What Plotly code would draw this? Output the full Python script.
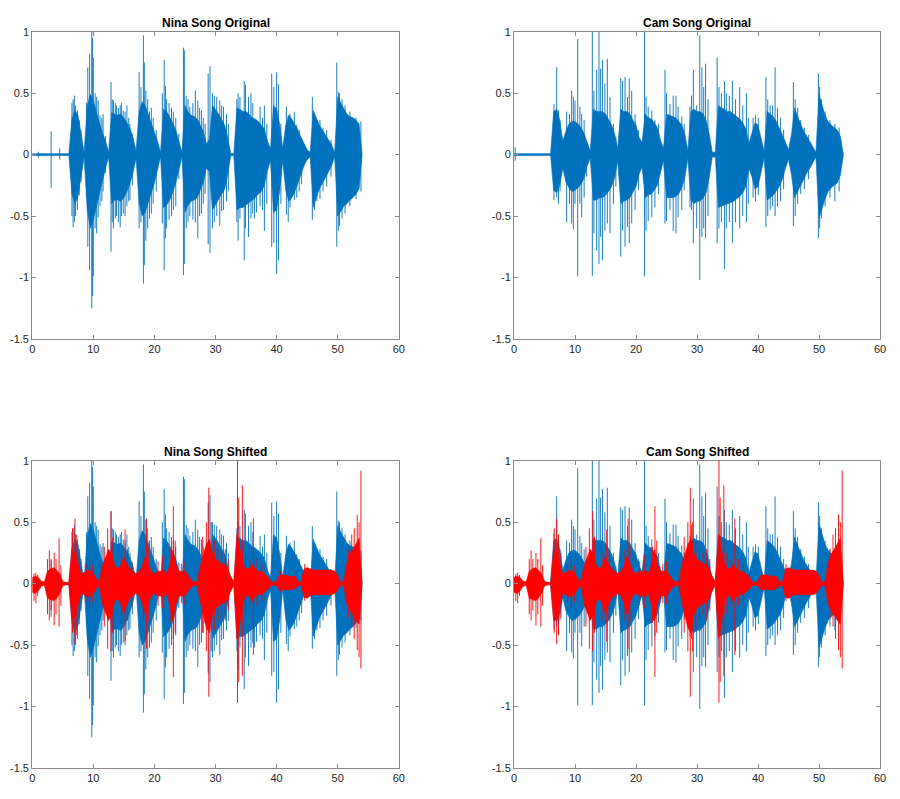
import plotly.graph_objects as go

# ---------------- data ----------------
# Dense "core" of each waveform: upper / lower envelope every 0.5 s (0 .. 54 s)
nina_core_upper = [0.008] * 13 + [
    0.29, 0.36, 0.32, 0.17, 0.02, 0.39, 0.49, 0.44, 0.34, 0.26,
    0.18, 0.11, 0.02, 0.34, 0.33, 0.32, 0.33, 0.30, 0.26, 0.21,
    0.14, 0.03, 0.35, 0.43, 0.40, 0.33, 0.26, 0.19, 0.11, 0.02,
    0.37, 0.35, 0.31, 0.26, 0.20, 0.12, 0.02, 0.40, 0.35, 0.32,
    0.31, 0.29, 0.24, 0.19, 0.09, 0.12, 0.40, 0.37, 0.33, 0.29,
    0.24, 0.14, 0.01, 0.01, 0.38, 0.37, 0.35, 0.35, 0.33, 0.30,
    0.29, 0.27, 0.24, 0.21, 0.11, 0.05, 0.40, 0.37, 0.25, 0.05,
    0.24, 0.32, 0.29, 0.25, 0.20, 0.14, 0.09, 0.04, 0.02, 0.36,
    0.30, 0.24, 0.20, 0.16, 0.12, 0.08, 0.02, 0.47, 0.42, 0.37,
    0.33, 0.31, 0.30, 0.28, 0.25, 0.0]
nina_core_lower = [-0.008] * 13 + [
    -0.32, -0.40, -0.34, -0.18, -0.02, -0.45, -0.60, -0.53, -0.43, -0.32,
    -0.21, -0.11, -0.02, -0.40, -0.37, -0.37, -0.38, -0.35, -0.30, -0.23,
    -0.15, -0.03, -0.40, -0.50, -0.47, -0.39, -0.31, -0.23, -0.13, -0.02,
    -0.43, -0.41, -0.37, -0.31, -0.23, -0.14, -0.02, -0.47, -0.41, -0.38,
    -0.37, -0.35, -0.29, -0.23, -0.11, -0.14, -0.45, -0.41, -0.37, -0.32,
    -0.28, -0.16, -0.01, -0.01, -0.45, -0.43, -0.43, -0.41, -0.39, -0.37,
    -0.35, -0.32, -0.30, -0.25, -0.13, -0.05, -0.47, -0.45, -0.30, -0.05,
    -0.29, -0.38, -0.35, -0.30, -0.23, -0.16, -0.09, -0.04, -0.02, -0.43,
    -0.35, -0.28, -0.23, -0.19, -0.14, -0.09, -0.02, -0.50, -0.46, -0.42,
    -0.40, -0.37, -0.35, -0.32, -0.28, 0.0]
# individual peaks: (time s, top, bottom)
nina_spikes = [
    (1.0, 0.025, -0.025), (3.1, 0.19, -0.27), (4.5, 0.05, -0.04),
    (6.5, 0.42, -0.50), (6.7, 0.45, -0.59), (6.9, 0.48, -0.55), (7.1, 0.40, -0.50),
    (7.4, 0.36, -0.45), (7.7, 0.28, -0.33), (8.0, 0.20, -0.22),
    (8.9, 0.42, -0.35), (9.1, 0.71, -0.75), (9.4, 0.82, -0.94), (9.75, 1.00, -1.25),
    (9.85, 0.95, -1.15), (10.0, 0.79, -0.99), (10.3, 0.50, -0.60), (10.55, 0.47, -0.64),
    (10.8, 0.44, -0.51), (11.1, 0.32, -0.42), (11.4, 0.30, -0.38), (11.6, 0.33, -0.30),
    (12.0, 0.15, -0.15),
    (12.9, 0.59, -0.79), (13.1, 0.45, -0.55), (13.3, 0.44, -0.60), (13.6, 0.42, -0.52),
    (13.8, 0.40, -0.50), (14.1, 0.38, -0.55), (14.4, 0.40, -0.59), (14.6, 0.42, -0.50),
    (14.9, 0.36, -0.48), (15.2, 0.35, -0.50), (15.5, 0.40, -0.42), (15.8, 0.30, -0.38),
    (16.0, 0.25, -0.37), (16.4, 0.17, -0.25),
    (17.5, 0.67, -0.60), (17.8, 0.55, -0.55), (18.2, 0.97, -1.05), (18.35, 0.75, -0.90),
    (18.6, 0.52, -0.70), (18.9, 0.45, -0.60), (19.2, 0.35, -0.52), (19.5, 0.38, -0.48),
    (19.8, 0.30, -0.40), (20.3, 0.20, -0.30),
    (21.3, 0.50, -0.56), (21.6, 0.77, -0.94), (21.8, 0.56, -0.68), (22.0, 0.45, -0.60),
    (22.4, 0.42, -0.53), (22.8, 0.38, -0.50), (23.1, 0.35, -0.45), (23.5, 0.30, -0.42),
    (24.0, 0.17, -0.20),
    (24.75, 0.87, -0.98), (24.9, 0.85, -0.89), (25.2, 0.48, -0.60), (25.5, 0.45, -0.55),
    (25.8, 0.39, -0.50), (26.3, 0.42, -0.53), (26.7, 0.52, -0.55), (27.1, 0.44, -0.68),
    (27.4, 0.38, -0.50), (27.7, 0.36, -0.48), (28.0, 0.30, -0.40), (28.3, 0.25, -0.32),
    (28.8, 0.66, -0.73), (29.1, 0.72, -0.80), (29.5, 0.50, -0.60), (29.8, 0.48, -0.55),
    (30.2, 0.47, -0.50), (30.7, 0.44, -0.58), (31.0, 0.40, -0.46), (31.3, 0.39, -0.45),
    (31.8, 0.33, -0.38), (32.1, 0.25, -0.30),
    (33.5, 0.45, -0.55), (33.7, 0.50, -0.70), (34.0, 0.47, -0.52), (34.7, 0.60, -0.86),
    (34.9, 0.57, -0.60), (35.4, 0.47, -0.67), (35.8, 0.50, -0.52), (36.1, 0.42, -0.48),
    (36.4, 0.25, -0.52), (36.7, 0.27, -0.47), (37.3, 0.39, -0.42), (37.7, 0.30, -0.45),
    (38.0, 0.40, -0.62), (38.4, 0.25, -0.40),
    (39.2, 0.66, -0.75), (39.55, 0.55, -0.72), (40.0, 0.67, -0.97), (40.3, 0.57, -0.86),
    (40.7, 0.25, -0.40),
    (41.6, 0.39, -0.49), (41.9, 0.32, -0.55), (42.2, 0.33, -0.43), (42.9, 0.35, -0.37),
    (43.3, 0.24, -0.35), (43.7, 0.20, -0.30), (44.1, 0.14, -0.24),
    (45.85, 0.47, -0.53), (46.2, 0.32, -0.45), (46.6, 0.28, -0.38), (47.1, 0.28, -0.36),
    (47.6, 0.22, -0.30), (48.2, 0.20, -0.26), (48.9, 0.12, -0.18),
    (49.85, 0.75, -0.75), (50.1, 0.51, -0.62), (50.3, 0.50, -0.58), (50.7, 0.45, -0.52),
    (51.2, 0.40, -0.48), (52.0, 0.35, -0.42), (53.0, 0.30, -0.36), (53.8, 0.27, -0.30)]

cam_core_upper = [0.008] * 13 + [
    0.35, 0.37, 0.28, 0.11, 0.19, 0.25, 0.27, 0.27, 0.25, 0.22,
    0.17, 0.09, 0.03, 0.37, 0.35, 0.35, 0.35, 0.33, 0.28, 0.24,
    0.17, 0.05, 0.37, 0.35, 0.35, 0.33, 0.28, 0.24, 0.14, 0.10,
    0.33, 0.30, 0.29, 0.26, 0.22, 0.12, 0.05, 0.33, 0.32, 0.31,
    0.30, 0.27, 0.24, 0.17, 0.03, 0.35, 0.37, 0.35, 0.35, 0.33,
    0.28, 0.17, 0.02, 0.02, 0.40, 0.38, 0.37, 0.35, 0.35, 0.33,
    0.31, 0.29, 0.26, 0.21, 0.09, 0.18, 0.26, 0.24, 0.14, 0.03,
    0.35, 0.33, 0.31, 0.27, 0.22, 0.16, 0.10, 0.04, 0.17, 0.38,
    0.31, 0.25, 0.19, 0.15, 0.11, 0.07, 0.02, 0.49, 0.40, 0.32,
    0.27, 0.24, 0.22, 0.20, 0.15, 0.0]
cam_core_lower = [-0.008] * 13 + [
    -0.29, -0.31, -0.25, -0.11, -0.22, -0.27, -0.30, -0.29, -0.27, -0.24,
    -0.19, -0.09, -0.03, -0.37, -0.37, -0.35, -0.35, -0.33, -0.30, -0.26,
    -0.19, -0.05, -0.40, -0.38, -0.37, -0.35, -0.31, -0.26, -0.16, -0.10,
    -0.35, -0.33, -0.32, -0.29, -0.25, -0.14, -0.05, -0.35, -0.35, -0.35,
    -0.34, -0.32, -0.27, -0.19, -0.03, -0.37, -0.40, -0.38, -0.38, -0.35,
    -0.31, -0.19, -0.02, -0.02, -0.43, -0.42, -0.41, -0.40, -0.39, -0.38,
    -0.36, -0.34, -0.31, -0.26, -0.11, -0.18, -0.28, -0.26, -0.16, -0.03,
    -0.37, -0.35, -0.33, -0.30, -0.26, -0.20, -0.11, -0.04, -0.17, -0.35,
    -0.30, -0.25, -0.20, -0.15, -0.11, -0.07, -0.02, -0.52, -0.44, -0.36,
    -0.30, -0.27, -0.25, -0.23, -0.17, 0.0]
cam_spikes = [
    (0.2, 0.06, -0.05),
    (6.55, 0.41, -0.37), (7.0, 0.71, -0.35), (7.3, 0.36, -0.40), (7.55, 0.28, -0.30),
    (8.63, 0.35, -0.55), (9.1, 0.33, -0.40), (9.45, 0.52, -0.56), (9.73, 0.47, -0.61),
    (10.0, 0.44, -0.40), (10.44, 0.94, -0.99), (10.8, 0.39, -0.40), (11.1, 0.33, -0.51),
    (11.5, 0.28, -0.35), (11.9, 0.10, -0.18),
    (12.84, 1.00, -0.99), (13.1, 0.52, -0.64), (13.55, 0.69, -0.78), (13.93, 1.00, -0.89),
    (14.2, 0.70, -0.67), (14.5, 0.77, -0.86), (14.9, 0.58, -0.62), (15.3, 0.78, -0.56),
    (15.74, 0.47, -0.64), (16.3, 0.25, -0.40), (16.7, 0.14, -0.26),
    (17.5, 0.62, -0.83), (17.8, 0.60, -0.62), (18.2, 0.63, -0.75), (18.6, 0.47, -0.59),
    (18.9, 0.62, -0.72), (19.3, 0.52, -0.56), (19.85, 0.33, -0.45), (20.4, 0.20, -0.29),
    (21.4, 1.00, -0.99), (21.65, 0.47, -0.62), (22.0, 0.39, -0.54), (22.6, 0.36, -0.51),
    (23.1, 0.28, -0.43), (23.7, 0.25, -0.32),
    (24.75, 0.69, -0.56), (25.0, 0.50, -0.54), (25.57, 0.41, -0.45), (26.1, 0.48, -0.62),
    (26.55, 0.48, -0.64), (26.9, 0.39, -0.51), (27.5, 0.31, -0.45), (27.9, 0.25, -0.29),
    (28.85, 0.39, -0.43), (29.1, 0.48, -0.45), (29.4, 0.69, -0.72), (29.95, 0.40, -0.60),
    (30.45, 0.97, -1.02), (30.8, 0.71, -0.67), (31.1, 0.55, -0.60), (31.4, 0.74, -0.68),
    (31.8, 0.45, -0.50),
    (33.3, 0.79, -0.72), (33.6, 0.55, -0.60), (34.0, 0.50, -0.55), (34.5, 0.60, -0.93),
    (34.8, 0.50, -0.60), (35.3, 0.48, -0.55), (35.8, 0.60, -0.72), (36.3, 0.45, -0.55),
    (37.0, 0.55, -0.60), (37.5, 0.40, -0.50), (38.1, 0.50, -0.55), (38.4, 0.30, -0.40),
    (39.2, 0.30, -0.35), (39.6, 0.32, -0.38), (40.05, 0.30, -0.33),
    (41.3, 0.63, -0.59), (41.6, 0.45, -0.50), (42.0, 0.40, -0.45), (42.4, 0.40, -0.42),
    (42.8, 0.71, -0.50), (43.2, 0.38, -0.42), (43.7, 0.30, -0.38), (44.2, 0.20, -0.28),
    (45.8, 0.59, -0.58), (46.1, 0.45, -0.50), (46.5, 0.38, -0.40), (47.0, 0.28, -0.32),
    (47.6, 0.22, -0.28), (48.3, 0.16, -0.20),
    (49.9, 0.66, -0.68), (50.1, 0.55, -0.60), (50.4, 0.45, -0.52), (51.0, 0.35, -0.42),
    (51.8, 0.28, -0.35), (52.6, 0.25, -0.38), (53.3, 0.22, -0.30)]

shifted_core_upper = [
    0.05, 0.06, 0.05, 0.02, 0.015, 0.10, 0.12, 0.13, 0.11, 0.08,
    0.02, 0.01, 0.01, 0.28, 0.25, 0.16, 0.08, 0.09, 0.11, 0.10,
    0.08, 0.04, 0.02, 0.15, 0.22, 0.28, 0.24, 0.15, 0.12, 0.15,
    0.22, 0.16, 0.12, 0.10, 0.08, 0.10, 0.14, 0.22, 0.16, 0.10,
    0.08, 0.10, 0.10, 0.11, 0.08, 0.15, 0.27, 0.16, 0.10, 0.10,
    0.10, 0.07, 0.03, 0.015, 0.015, 0.15, 0.24, 0.32, 0.36, 0.25,
    0.20, 0.18, 0.16, 0.16, 0.12, 0.06, 0.015, 0.40, 0.28, 0.16,
    0.12, 0.12, 0.16, 0.12, 0.10, 0.10, 0.08, 0.06, 0.02, 0.01,
    0.02, 0.07, 0.07, 0.07, 0.06, 0.06, 0.06, 0.02, 0.01, 0.12,
    0.13, 0.12, 0.11, 0.11, 0.11, 0.11, 0.11, 0.11, 0.11, 0.10,
    0.07, 0.01, 0.02, 0.17, 0.24, 0.28, 0.33, 0.37, 0.0]
shifted_core_lower = [
    -0.07, -0.08, -0.06, -0.02, -0.015, -0.12, -0.13, -0.14, -0.12, -0.08,
    -0.02, -0.01, -0.01, -0.30, -0.27, -0.18, -0.08, -0.09, -0.11, -0.10,
    -0.08, -0.04, -0.02, -0.17, -0.24, -0.30, -0.26, -0.15, -0.12, -0.17,
    -0.25, -0.17, -0.12, -0.10, -0.08, -0.10, -0.16, -0.25, -0.16, -0.10,
    -0.08, -0.10, -0.10, -0.11, -0.08, -0.17, -0.30, -0.17, -0.10, -0.10,
    -0.10, -0.07, -0.03, -0.015, -0.015, -0.15, -0.26, -0.36, -0.40, -0.25,
    -0.20, -0.18, -0.16, -0.16, -0.12, -0.06, -0.015, -0.45, -0.32, -0.15,
    -0.10, -0.10, -0.15, -0.10, -0.09, -0.09, -0.07, -0.05, -0.02, -0.01,
    -0.02, -0.05, -0.05, -0.05, -0.05, -0.05, -0.04, -0.02, -0.01, -0.11,
    -0.12, -0.10, -0.09, -0.09, -0.09, -0.09, -0.09, -0.09, -0.09, -0.08,
    -0.05, -0.01, -0.02, -0.17, -0.22, -0.26, -0.30, -0.33, 0.0]
shifted_spikes = [
    (0.3, 0.08, -0.14), (0.6, 0.09, -0.16), (0.9, 0.07, -0.10),
    (2.5, 0.20, -0.25), (2.8, 0.27, -0.30), (3.1, 0.20, -0.22), (3.6, 0.25, -0.34),
    (3.9, 0.20, -0.25), (4.4, 0.37, -0.35), (4.7, 0.15, -0.18),
    (6.6, 0.45, -0.40), (7.0, 0.53, -0.49), (7.3, 0.40, -0.42), (7.7, 0.25, -0.28),
    (8.8, 0.16, -0.15), (9.4, 0.20, -0.20), (9.9, 0.15, -0.15),
    (11.8, 0.30, -0.35), (12.35, 0.45, -0.53), (12.9, 0.59, -0.55), (13.2, 0.38, -0.40),
    (14.6, 0.25, -0.30), (15.2, 0.44, -0.47), (15.6, 0.28, -0.30), (16.3, 0.18, -0.18),
    (18.2, 0.28, -0.30), (18.7, 0.53, -0.53), (19.0, 0.30, -0.30),
    (20.6, 0.18, -0.18), (21.35, 0.23, -0.20),
    (22.7, 0.30, -0.32), (23.1, 0.63, -0.76), (23.4, 0.35, -0.40),
    (24.4, 0.16, -0.16), (25.0, 0.18, -0.17),
    (27.9, 0.38, -0.40), (28.5, 0.50, -0.55), (28.9, 0.78, -0.92), (29.3, 0.50, -0.55),
    (29.8, 0.35, -0.38), (30.4, 0.28, -0.30), (31.0, 0.25, -0.25), (31.6, 0.28, -0.30),
    (32.1, 0.20, -0.22),
    (33.6, 1.00, -0.97), (33.8, 0.70, -0.80), (34.4, 0.80, -0.75), (34.9, 0.25, -0.25),
    (35.6, 0.20, -0.18), (36.2, 0.53, -0.58), (36.8, 0.20, -0.18), (37.6, 0.16, -0.14),
    (40.6, 0.10, -0.07), (44.6, 0.16, -0.14),
    (51.8, 0.28, -0.28), (52.3, 0.40, -0.35), (52.7, 0.45, -0.45), (53.2, 0.56, -0.54),
    (53.5, 0.50, -0.60), (53.8, 0.92, -0.69)]

ENV_STEP = 0.5  # s between envelope samples
env_t = [ENV_STEP * i for i in range(len(nina_core_upper))]

titles = ["Nina Song Original", "Cam Song Original", "Nina Song Shifted", "Cam Song Shifted"]
x_ticks = [0, 10, 20, 30, 40, 50, 60]
y_ticks = [-1.5, -1, -0.5, 0, 0.5, 1]
y_tick_text = ["-1.5", "-1", "-0.5", "0", "0.5", "1"]

BLUE = "#0072BD"
RED = "#FF0000"
FONT = "Liberation Sans, Arial, Helvetica, sans-serif"

fig = go.Figure()


def add_wave(upper, lower, spikes, color, ax):
    n = min(len(env_t), len(upper), len(lower))
    ts = env_t[:n]
    xs = ts + ts[::-1]
    ys = list(upper[:n]) + list(lower[:n])[::-1]
    fig.add_trace(go.Scatter(x=xs, y=ys, fill="toself", fillcolor=color, mode="lines",
                             line=dict(color=color, width=0.6), hoverinfo="skip",
                             showlegend=False, xaxis="x" + ax, yaxis="y" + ax))
    sx, sy = [], []
    for t, top, bot in spikes:
        sx += [t, t, None]
        sy += [bot, top, None]
    fig.add_trace(go.Scatter(x=sx, y=sy, mode="lines", line=dict(color=color, width=0.9),
                             hoverinfo="skip", showlegend=False, xaxis="x" + ax, yaxis="y" + ax))


add_wave(nina_core_upper, nina_core_lower, nina_spikes, BLUE, "")
add_wave(cam_core_upper, cam_core_lower, cam_spikes, BLUE, "2")
add_wave(nina_core_upper, nina_core_lower, nina_spikes, BLUE, "3")
add_wave(shifted_core_upper, shifted_core_lower, shifted_spikes, RED, "3")
add_wave(cam_core_upper, cam_core_lower, cam_spikes, BLUE, "4")
add_wave(shifted_core_upper, shifted_core_lower, shifted_spikes, RED, "4")

W, H = 900, 799
xdom = [[32.2 / W, 398.8 / W], [514.0 / W, 880.0 / W]]
ydom = [[1 - 339 / H, 1 - 31.7 / H], [1 - 768 / H, 1 - 460.7 / H]]

axis_common = dict(showline=True, linecolor="#8a8a8a", linewidth=1, mirror="ticks",
                   ticks="inside", ticklen=4, tickcolor="#8a8a8a", showgrid=False,
                   zeroline=False, automargin=False,
                   tickfont=dict(family=FONT, size=11, color="#262626"))

layout = dict(width=W, height=H, autosize=False, margin=dict(l=0, r=0, t=0, b=0, pad=0),
              paper_bgcolor="white", plot_bgcolor="white", showlegend=False)
annotations = []
for i in range(4):
    r, c = divmod(i, 2)
    sfx = "" if i == 0 else str(i + 1)
    layout["xaxis" + sfx] = dict(domain=xdom[c], range=[0, 60], tickvals=x_ticks,
                                 anchor="y" + sfx, **axis_common)
    layout["yaxis" + sfx] = dict(domain=ydom[r], range=[-1.5, 1], tickvals=y_ticks,
                                 ticktext=y_tick_text, anchor="x" + sfx, **axis_common)
    annotations.append(dict(text="<b>" + titles[i] + "</b>", xref="paper", yref="paper",
                            x=(xdom[c][0] + xdom[c][1]) / 2, y=ydom[r][1] + 9 / H,
                            xanchor="center", yanchor="middle", showarrow=False,
                            font=dict(family=FONT, size=12, color="black")))
layout["annotations"] = annotations
fig.update_layout(**layout)

fig.write_html("out.html", config={"displayModeBar": False},
               post_script="document.body.style.margin='0px';document.body.style.overflow='hidden';")
